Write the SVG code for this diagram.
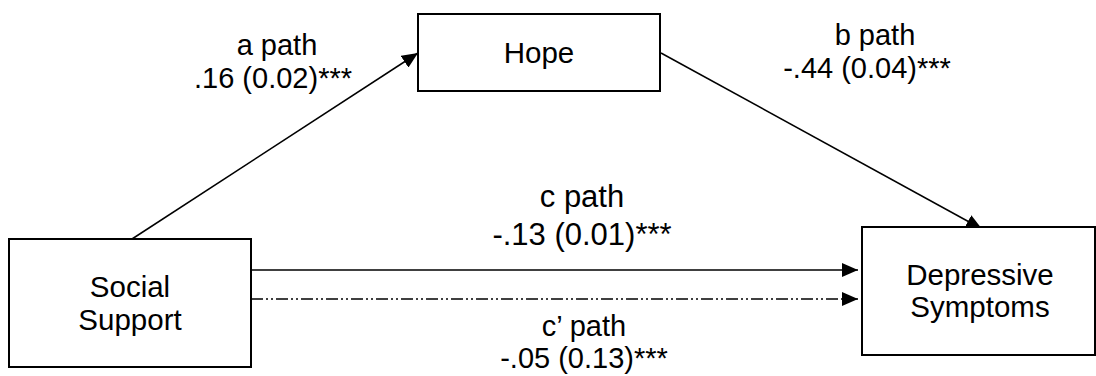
<svg xmlns="http://www.w3.org/2000/svg" width="1096" height="376" viewBox="0 0 1096 376">
<style>
.box{fill:#fff;stroke:#000;stroke-width:2}
.ln{fill:none;stroke:#000;stroke-width:1.5}
.dd{stroke-dasharray:12 3 2 3 2 3}
text{font-family:"Liberation Sans",Arial,sans-serif;fill:#000;text-anchor:middle}
.n{font-size:29.5px}
.l{font-size:29px}
.lc{font-size:31px}
</style>
<defs>
<marker id="arr" markerUnits="userSpaceOnUse" markerWidth="16" markerHeight="14" viewBox="0 0 16 14" refX="16" refY="7" orient="auto">
<path d="M0,0 L16,7 L0,14 z" fill="#000"/>
</marker>
</defs>
<rect width="1096" height="376" fill="#fff"/>
<g id="connectors">
<line class="ln" x1="132" y1="239" x2="418" y2="53" marker-end="url(#arr)"/>
<line class="ln" x1="661" y1="53" x2="982" y2="229" marker-end="url(#arr)"/>
<line class="ln" x1="251" y1="270" x2="858" y2="270" marker-end="url(#arr)"/>
<line class="ln dd" x1="251" y1="299" x2="858" y2="299" marker-end="url(#arr)"/>
</g>
<g id="social-support">
<rect class="box" x="9" y="239" width="242" height="128"/>
<text class="n" x="130" y="297">Social</text>
<text class="n" x="130" y="330">Support</text>
</g>
<g id="hope">
<rect class="box" x="418" y="14" width="242" height="77"/>
<text class="n" x="539" y="63">Hope</text>
</g>
<g id="depressive-symptoms">
<rect class="box" x="862" y="227" width="233" height="128"/>
<text class="n" x="980" y="285">Depressive</text>
<text class="n" x="980" y="317">Symptoms</text>
</g>
<g id="labels">
<text class="l" x="277" y="55">a path</text>
<text class="l" x="273" y="88">.16 (0.02)***</text>
<text class="l" x="875" y="45">b path</text>
<text class="l" x="867" y="78">-.44 (0.04)***</text>
<text class="lc" x="582" y="207">c path</text>
<text class="lc" x="582" y="245">-.13 (0.01)***</text>
<text class="l" x="584" y="336">c’ path</text>
<text class="l" x="584" y="368">-.05 (0.13)***</text>
</g>
</svg>
